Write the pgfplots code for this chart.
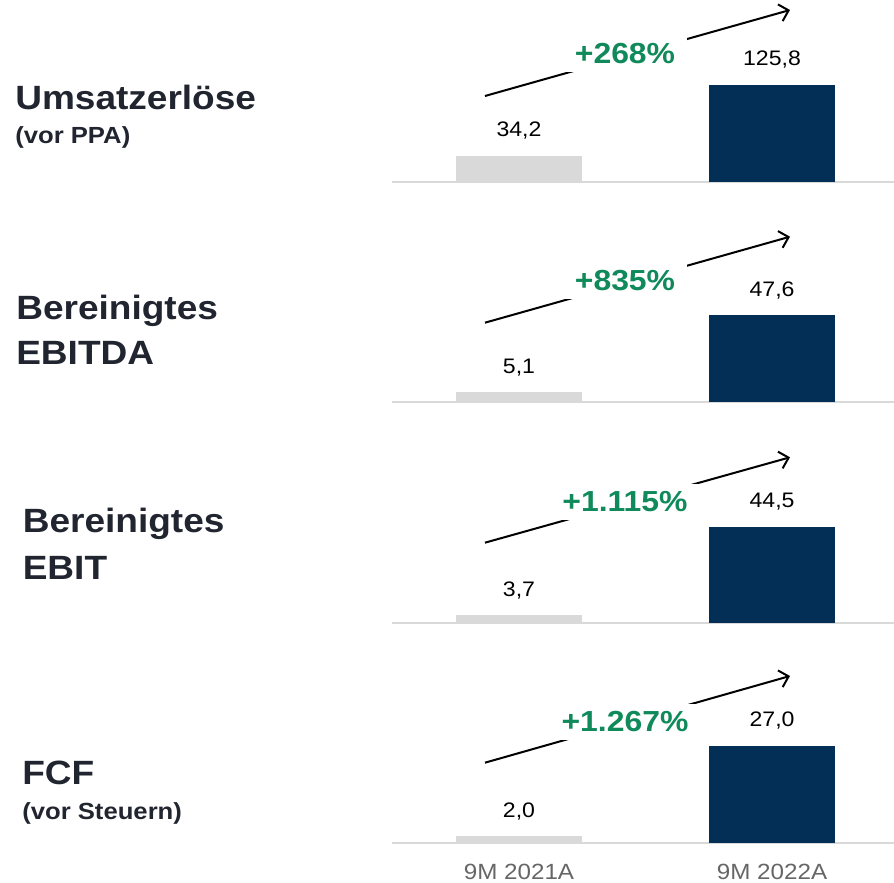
\documentclass[border=0pt]{standalone}
\usepackage{pgfplots}
\pgfplotsset{compat=1.18}
\usetikzlibrary{arrows.meta}
\usepackage{fontspec}
\setmainfont[FakeStretch=1.1]{Liberation Sans}
\definecolor{navy}{RGB}{3,46,85}
\definecolor{barGray}{RGB}{217,217,217}
\definecolor{baseGray}{RGB}{217,217,217}
\definecolor{upGreen}{RGB}{16,138,90}
\definecolor{labelDark}{RGB}{33,37,48}
\definecolor{tickGray}{RGB}{102,102,102}
\pgfplotsset{panel/.style={
  scale only axis, width=376.5pt, height=120pt,
  xmin=-0.502, xmax=1.482, ymin=0,
  axis y line=none, axis x line*=bottom,
  x axis line style={draw=baseGray, line width=1.5pt},
  xtick=\empty, ytick=\empty,
  ybar, bar width=94.5pt, bar shift=0pt,
  nodes near coords,
  /pgf/number format/.cd, use comma, fixed, fixed zerofill, precision=1, assume math mode=true,
  /pgfplots/.cd,
  every node near coord/.append style={font=\fontsize{15.75}{18}\selectfont, text=black, anchor=center, yshift=18.75pt, inner sep=0pt},
  clip=false, anchor=south west,
}}
\tikzset{growarrow/.style={line width=1.5pt, -{Straight Barb[length=6.5pt,width=13pt,line width=1.5pt]}},
  pct/.style={fill=white, inner xsep=9pt, inner ysep=0pt, minimum height=27pt, text=upGreen, font=\bfseries\fontsize{21.75}{24}\selectfont},
  big/.style={anchor=base west, inner sep=0pt, text=labelDark, font=\bfseries\fontsize{25.25}{28}\selectfont},
  small/.style={anchor=base west, inner sep=0pt, text=labelDark, font=\bfseries\fontsize{17.5}{20}\selectfont}}
\begin{document}
\begin{tikzpicture}[x=0.75pt,y=0.75pt]
\path[use as bounding box] (0,0) rectangle (894,883);
% Panel 1
\begin{axis}[panel, ymax=206, at={(294pt,525.375pt)}]
\addplot[fill=barGray, draw=none] coordinates {(0,34.2)};
\addplot[fill=navy, draw=none] coordinates {(1,125.8)};
\end{axis}
% Panel 2
\begin{axis}[panel, ymax=87.9, at={(294pt,360.975pt)}]
\addplot[fill=barGray, draw=none] coordinates {(0,5.1)};
\addplot[fill=navy, draw=none] coordinates {(1,47.6)};
\end{axis}
% Panel 3
\begin{axis}[panel, ymax=73.7, at={(294pt,194.775pt)}]
\addplot[fill=barGray, draw=none] coordinates {(0,3.7)};
\addplot[fill=navy, draw=none] coordinates {(1,44.5)};
\end{axis}
% Panel 4
\begin{axis}[panel, ymax=44.4, at={(294pt,29.775pt)},
  xtick={0,1}, xticklabels={9M 2021A,9M 2022A}, major tick length=0pt,
  xticklabel style={font=\fontsize{16.5}{18}\selectfont, text=tickGray, anchor=base, yshift=-27.3pt}]
\addplot[fill=barGray, draw=none] coordinates {(0,2.0)};
\addplot[fill=navy, draw=none] coordinates {(1,27.0)};
\end{axis}
% arrows and growth rates
\draw[growarrow] (485,787) -- (790,873);
\node[pct] at (625,829) {+268\%};
\draw[growarrow] (485,560.3) -- (790,646.3);
\node[pct] at (625,602) {+835\%};
\draw[growarrow] (485,340.3) -- (790,425.7);
\node[pct] at (625,381.3) {+1.115\%};
\draw[growarrow] (485,120.3) -- (790,207);
\node[pct] at (625,161.3) {+1.267\%};
% left labels
\node[big] at (15,773) {Umsatzerlöse};
\node[small] at (15,739) {(vor PPA)};
\node[big] at (16,563) {Bereinigtes};
\node[big] at (16,518) {EBITDA};
\node[big] at (22.5,350) {Bereinigtes};
\node[big] at (22.5,303) {EBIT};
\node[big] at (22,98) {FCF};
\node[small] at (22,63) {(vor Steuern)};
\end{tikzpicture}
\end{document}
